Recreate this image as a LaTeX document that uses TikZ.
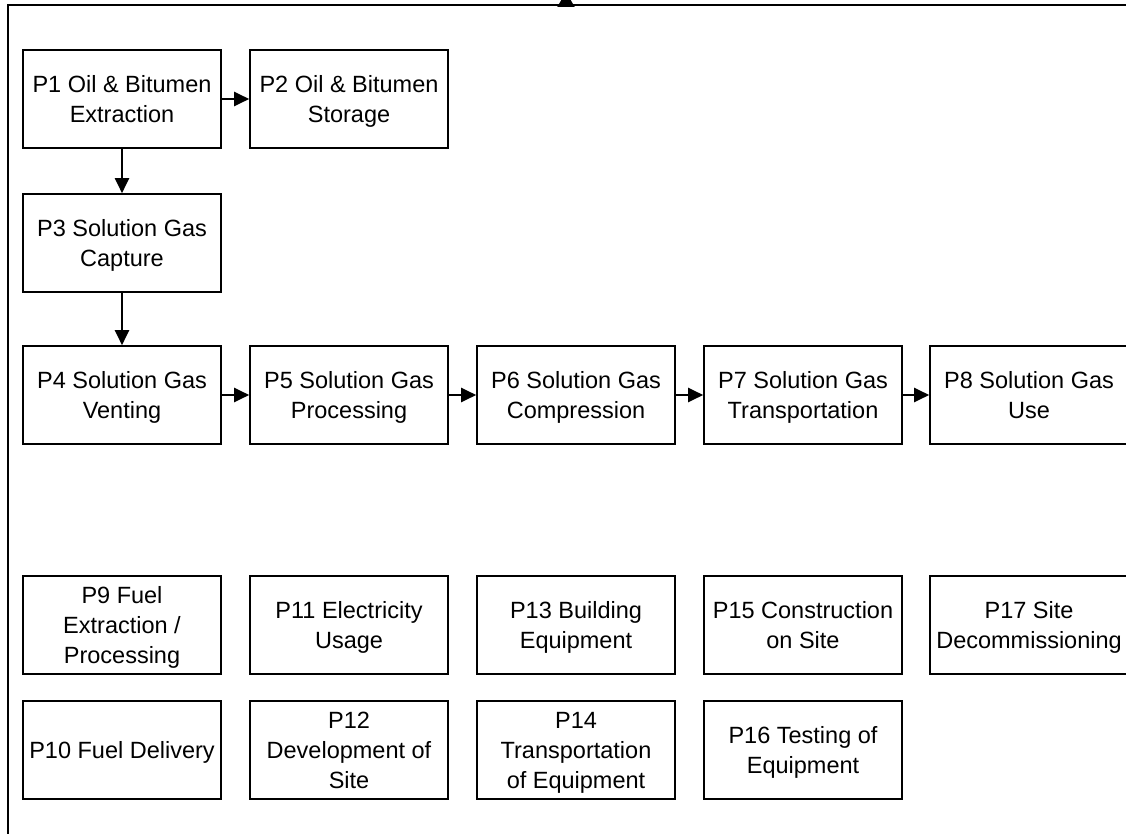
\documentclass[tikz,border=0pt]{standalone}
\usepackage{fontspec}
\setmainfont{Liberation Sans}
\usetikzlibrary{arrows.meta}
\begin{document}
\begin{tikzpicture}[x=1pt,y=-1pt,
  proc/.style={draw=black,line width=1.6pt,minimum width=198pt,minimum height=98pt,
    inner sep=0pt,align=center,text depth=0pt,font=\fontsize{23.5}{30}\selectfont},
  arr/.style={line width=2pt,-{Triangle[length=15pt,width=14pt]}},
  toparr/.style={line width=2pt,-{Triangle[length=15pt,width=17pt]}},
  frame/.style={line width=2pt}]
\useasboundingbox (0,0) rectangle (1126,834);
\fill[white] (0,0) rectangle (1126,834);
\clip (0,0) rectangle (1126,834);
\draw[frame] (8,5) rectangle (1160,860);
\coordinate (topin) at (566,7);
\coordinate (topout) at (566,-8);
\draw[toparr] (topin) -- (topout);
% row 1
\node[proc] (p1) at (122,99) {P1 Oil \& Bitumen\\Extraction};
\node[proc] (p2) at (349,99) {P2 Oil \& Bitumen\\Storage};
% row 2
\node[proc] (p3) at (122,243) {P3 Solution Gas\\Capture};
% row 3
\node[proc] (p4) at (122,395) {P4 Solution Gas\\Venting};
\node[proc] (p5) at (349,395) {P5 Solution Gas\\Processing};
\node[proc] (p6) at (576,395) {P6 Solution Gas\\Compression};
\node[proc] (p7) at (803,395) {P7 Solution Gas\\Transportation};
\node[proc] (p8) at (1029,395) {P8 Solution Gas\\Use};
% row 4
\node[proc] (p9) at (122,625) {P9 Fuel\\Extraction /\\Processing};
\node[proc] (p11) at (349,625) {P11 Electricity\\Usage};
\node[proc] (p13) at (576,625) {P13 Building\\Equipment};
\node[proc] (p15) at (803,625) {P15 Construction\\on Site};
\node[proc] (p17) at (1029,625) {P17 Site\\Decommissioning};
% row 5
\node[proc] (p10) at (122,750) {P10 Fuel Delivery};
\node[proc] (p12) at (349,750) {P12\\Development of\\Site};
\node[proc] (p14) at (576,750) {P14\\Transportation\\of Equipment};
\node[proc] (p16) at (803,750) {P16 Testing of\\Equipment};
% connectors
\draw[arr] (p1) -- (p2);
\draw[arr] (p1) -- (p3);
\draw[arr] (p3) -- (p4);
\draw[arr] (p4) -- (p5);
\draw[arr] (p5) -- (p6);
\draw[arr] (p6) -- (p7);
\draw[arr] (p7) -- (p8);
\end{tikzpicture}
\end{document}
